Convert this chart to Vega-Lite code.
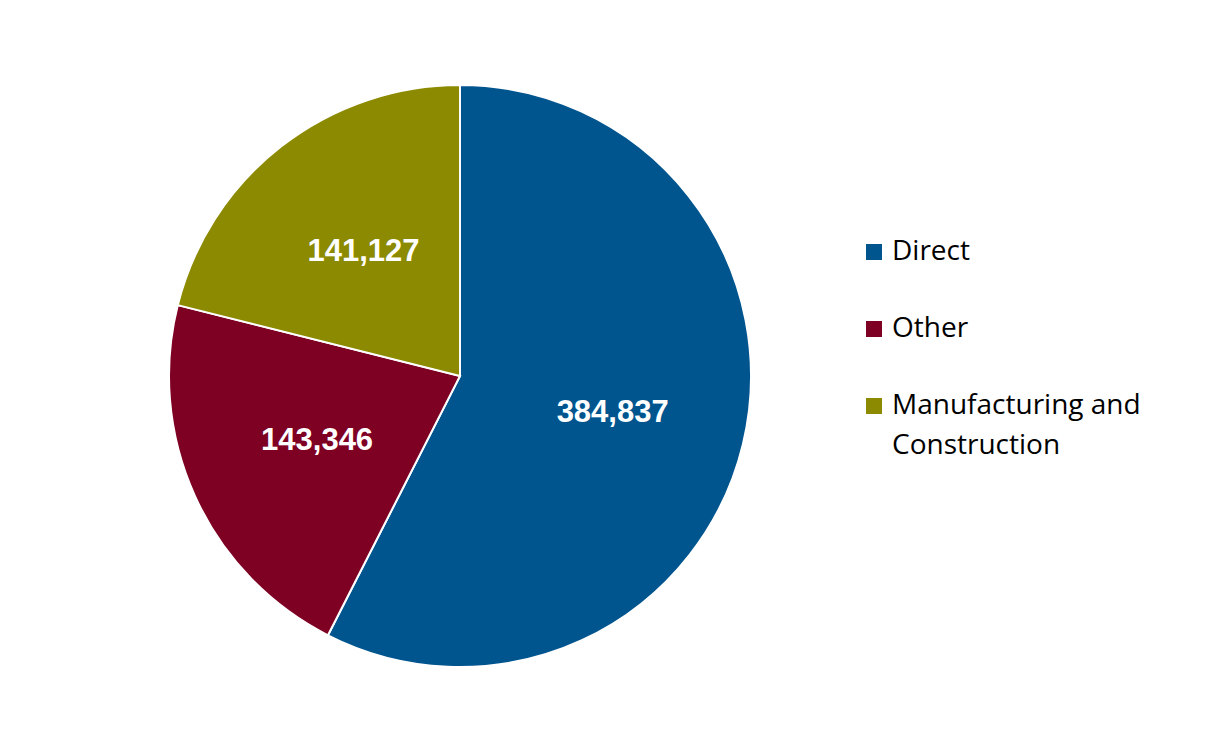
{
  "$schema": "https://vega.github.io/schema/vega-lite/v6.json",
  "width": 582,
  "height": 582,
  "autosize": {"type": "none"},
  "padding": {"left": 169, "top": 85, "right": 474, "bottom": 68},
  "background": "white",
  "config": {
    "view": {"stroke": null},
    "style": {"guide-label": {"lineHeight": 40}}
  },
  "data": {
    "values": [
      {"category": "Direct", "value": 384837, "k": 1},
      {"category": "Other", "value": 143346, "k": 2},
      {"category": "Manufacturing and Construction", "value": 141127, "k": 3}
    ]
  },
  "encoding": {
    "theta": {"field": "value", "type": "quantitative", "stack": true},
    "order": {"field": "k", "type": "quantitative"}
  },
  "layer": [
    {
      "mark": {"type": "arc", "outerRadius": 291, "stroke": "white", "strokeWidth": 2},
      "encoding": {
        "color": {
          "field": "category",
          "type": "nominal",
          "sort": ["Direct", "Other", "Manufacturing and Construction"],
          "scale": {
            "domain": ["Direct", "Other", "Manufacturing and Construction"],
            "range": ["#00558F", "#7E0023", "#8C8A00"]
          },
          "legend": {
            "title": null,
            "orient": "none",
            "legendX": 691,
            "legendY": 153,
            "padding": 0,
            "symbolType": "square",
            "symbolSize": 256,
            "symbolStrokeWidth": 0,
            "labelFont": "Open Sans",
            "labelFontSize": 28,
            "labelColor": "#000000",
            "labelOffset": 4,
            "labelLimit": 400,
            "rowPadding": 49,
            "labelExpr": "datum.label == 'Manufacturing and Construction' ? ['Manufacturing and', 'Construction'] : datum.label",
            "labelBaseline": "middle",
            "encode": {"labels": {"update": {"lineHeight": {"value": 40}}}}
          }
        }
      }
    },
    {
      "mark": {"type": "text", "radius": 157, "font": "Liberation Sans", "fontWeight": "bold", "fontSize": 31, "fill": "white"},
      "encoding": {
        "text": {"field": "value", "type": "quantitative", "format": ","}
      }
    }
  ]
}
